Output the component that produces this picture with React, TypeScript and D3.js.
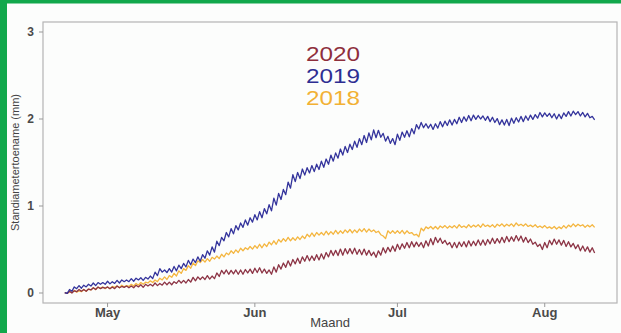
import React from "react";
import * as d3 from "d3";

// ---- data (daily values in mm, day 0 = 22 April) ----
const startDay = Date.UTC(2020, 3, 22);
const domainStart = Date.UTC(2020, 3, 17, 10);
const domainEnd = Date.UTC(2020, 7, 16, 5);

const monthTicks = [Date.UTC(2020, 4, 1), Date.UTC(2020, 5, 1), Date.UTC(2020, 6, 1), Date.UTC(2020, 7, 1)];
const monthLabels = ["May", "Jun", "Jul", "Aug"];
const yTicks = [0, 1, 2, 3];

const years = ["2020", "2019", "2018"];
const yearColors = ["#8e2f3c", "#2e2e92", "#f2b134"];

const v2019 = [
  0.00, 0.03, 0.06, 0.07, 0.08, 0.09, 0.10, 0.11, 0.11, 0.12,
  0.12, 0.13, 0.14, 0.14, 0.15, 0.16, 0.16, 0.17, 0.18, 0.22,
  0.26, 0.25, 0.26, 0.28, 0.30, 0.32, 0.35, 0.37, 0.39, 0.42,
  0.46, 0.50, 0.57, 0.62, 0.67, 0.71, 0.75, 0.78, 0.81, 0.84,
  0.87, 0.90, 0.94, 0.98, 1.05, 1.11, 1.16, 1.24, 1.32, 1.35,
  1.39, 1.41, 1.43, 1.45, 1.48, 1.51, 1.55, 1.58, 1.62, 1.65,
  1.68, 1.71, 1.74, 1.77, 1.80, 1.83, 1.83, 1.79, 1.76, 1.74,
  1.79, 1.82, 1.83, 1.86, 1.91, 1.93, 1.92, 1.91, 1.92, 1.94,
  1.95, 1.96, 1.97, 1.99, 2.00, 2.01, 2.02, 2.02, 2.01, 2.00,
  1.99, 1.97, 1.96, 1.96, 1.98, 1.99, 2.00, 2.01, 2.02, 2.03,
  2.05, 2.05, 2.04, 2.03, 2.03, 2.05, 2.06, 2.07, 2.06, 2.05,
  2.04, 2.01,
];
const r2019 = [
  0.01, 0.02, 0.02, 0.03, 0.02, 0.02, 0.03, 0.02, 0.02, 0.03,
  0.02, 0.03, 0.02, 0.02, 0.03, 0.02, 0.03, 0.02, 0.03, 0.04,
  0.04, 0.03, 0.04, 0.05, 0.04, 0.04, 0.05, 0.04, 0.05, 0.04,
  0.05, 0.06, 0.05, 0.04, 0.05, 0.06, 0.05, 0.05, 0.06, 0.05,
  0.06, 0.07, 0.06, 0.07, 0.08, 0.07, 0.06, 0.07, 0.08, 0.07,
  0.07, 0.06, 0.07, 0.06, 0.07, 0.06, 0.07, 0.06, 0.07, 0.07,
  0.06, 0.07, 0.07, 0.08, 0.08, 0.09, 0.08, 0.09, 0.08, 0.07,
  0.07, 0.06, 0.07, 0.06, 0.05, 0.06, 0.05, 0.06, 0.05, 0.06,
  0.05, 0.06, 0.05, 0.06, 0.05, 0.06, 0.05, 0.04, 0.05, 0.06,
  0.06, 0.07, 0.06, 0.07, 0.06, 0.05, 0.06, 0.05, 0.05, 0.04,
  0.05, 0.04, 0.05, 0.06, 0.05, 0.04, 0.05, 0.04, 0.05, 0.05,
  0.05, 0.04,
];

const v2018 = [
  0.00, 0.01, 0.02, 0.02, 0.03, 0.04, 0.05, 0.06, 0.06, 0.06,
  0.07, 0.07, 0.08, 0.08, 0.09, 0.10, 0.11, 0.12, 0.13, 0.14,
  0.16, 0.17, 0.19, 0.21, 0.24, 0.27, 0.30, 0.33, 0.36, 0.37,
  0.38, 0.40, 0.41, 0.43, 0.45, 0.47, 0.48, 0.50, 0.51, 0.52,
  0.53, 0.54, 0.55, 0.57, 0.58, 0.60, 0.61, 0.62, 0.62, 0.63,
  0.64, 0.66, 0.67, 0.68, 0.68, 0.69, 0.69, 0.70, 0.70, 0.71,
  0.71, 0.71, 0.72, 0.72, 0.72, 0.71, 0.69, 0.64, 0.70, 0.70,
  0.70, 0.70, 0.70, 0.68, 0.66, 0.73, 0.75, 0.75, 0.75, 0.76,
  0.76, 0.76, 0.76, 0.77, 0.76, 0.77, 0.77, 0.77, 0.78, 0.77,
  0.77, 0.78, 0.78, 0.78, 0.78, 0.79, 0.78, 0.78, 0.77, 0.77,
  0.76, 0.76, 0.75, 0.75, 0.75, 0.76, 0.77, 0.78, 0.78, 0.77,
  0.77, 0.77,
];
const r2018 = [
  0.01, 0.01, 0.02, 0.01, 0.02, 0.01, 0.02, 0.01, 0.02, 0.02,
  0.01, 0.02, 0.02, 0.01, 0.02, 0.02, 0.02, 0.01, 0.02, 0.02,
  0.02, 0.03, 0.02, 0.03, 0.03, 0.02, 0.03, 0.03, 0.02, 0.03,
  0.03, 0.02, 0.03, 0.03, 0.02, 0.03, 0.03, 0.03, 0.02, 0.03,
  0.03, 0.04, 0.03, 0.03, 0.04, 0.03, 0.03, 0.04, 0.03, 0.03,
  0.03, 0.03, 0.04, 0.03, 0.03, 0.04, 0.03, 0.04, 0.03, 0.03,
  0.04, 0.03, 0.03, 0.04, 0.03, 0.03, 0.04, 0.03, 0.03, 0.03,
  0.03, 0.04, 0.03, 0.03, 0.03, 0.03, 0.02, 0.03, 0.03, 0.02,
  0.03, 0.02, 0.03, 0.03, 0.02, 0.03, 0.02, 0.03, 0.03, 0.02,
  0.03, 0.02, 0.03, 0.02, 0.03, 0.03, 0.02, 0.03, 0.02, 0.03,
  0.02, 0.03, 0.02, 0.03, 0.02, 0.03, 0.02, 0.03, 0.02, 0.03,
  0.02, 0.03,
];

const v2020 = [
  0.00, 0.01, 0.02, 0.03, 0.03, 0.04, 0.05, 0.06, 0.06, 0.06,
  0.06, 0.07, 0.07, 0.07, 0.07, 0.08, 0.08, 0.09, 0.09, 0.10,
  0.10, 0.11, 0.11, 0.12, 0.13, 0.13, 0.14, 0.16, 0.17, 0.17,
  0.18, 0.18, 0.21, 0.24, 0.24, 0.24, 0.24, 0.24, 0.25, 0.25,
  0.26, 0.26, 0.25, 0.24, 0.27, 0.30, 0.32, 0.34, 0.36, 0.37,
  0.39, 0.40, 0.40, 0.41, 0.42, 0.44, 0.46, 0.46, 0.47, 0.48,
  0.48, 0.48, 0.47, 0.47, 0.46, 0.44, 0.46, 0.49, 0.50, 0.51,
  0.53, 0.54, 0.55, 0.56, 0.56, 0.55, 0.57, 0.59, 0.61, 0.60,
  0.58, 0.55, 0.55, 0.56, 0.56, 0.57, 0.57, 0.58, 0.58, 0.59,
  0.60, 0.60, 0.61, 0.62, 0.62, 0.63, 0.62, 0.61, 0.59, 0.56,
  0.53, 0.55, 0.58, 0.59, 0.58, 0.57, 0.56, 0.54, 0.52, 0.51,
  0.50, 0.49,
];
const r2020 = [
  0.01, 0.02, 0.01, 0.02, 0.02, 0.01, 0.02, 0.02, 0.01, 0.02,
  0.02, 0.02, 0.01, 0.02, 0.02, 0.02, 0.03, 0.02, 0.02, 0.03,
  0.02, 0.03, 0.03, 0.02, 0.03, 0.03, 0.03, 0.04, 0.03, 0.03,
  0.04, 0.03, 0.04, 0.04, 0.05, 0.04, 0.05, 0.05, 0.04, 0.05,
  0.05, 0.06, 0.05, 0.05, 0.06, 0.05, 0.05, 0.06, 0.05, 0.06,
  0.05, 0.06, 0.05, 0.06, 0.06, 0.05, 0.06, 0.06, 0.07, 0.06,
  0.06, 0.07, 0.06, 0.07, 0.06, 0.06, 0.05, 0.06, 0.05, 0.06,
  0.06, 0.05, 0.06, 0.06, 0.05, 0.06, 0.06, 0.07, 0.06, 0.06,
  0.05, 0.06, 0.06, 0.05, 0.06, 0.06, 0.05, 0.06, 0.06, 0.05,
  0.06, 0.05, 0.06, 0.06, 0.05, 0.06, 0.07, 0.06, 0.06, 0.05,
  0.06, 0.06, 0.05, 0.06, 0.06, 0.07, 0.06, 0.06, 0.07, 0.06,
  0.06, 0.06,
];

// ---- chart ----
const W = 621;
const H = 333;
const box = { left: 43, right: 617, top: 22, bottom: 303 };
const DAY = 86400000;

type Pt = { t: number; v: number };

// each day: daily high in the morning, daily low half a day later
function toPoints(vals: number[], ranges: number[]): Pt[] {
  const pts: Pt[] = [];
  vals.forEach((v, i) => {
    pts.push({ t: startDay + i * DAY, v: v + ranges[i] / 2 });
    pts.push({ t: startDay + i * DAY + DAY / 2, v: v - ranges[i] / 2 });
  });
  return pts;
}

export default function App() {
  const x = d3.scaleUtc().domain([domainStart, domainEnd]).range([box.left, box.right]);
  const y = d3.scaleLinear().domain([0, 3]).range([293, 32]);

  const line = d3
    .line<Pt>()
    .x((d) => x(d.t))
    .y((d) => y(d.v));

  const series = [
    { pts: toPoints(v2018, r2018), color: "#f4b640" },
    { pts: toPoints(v2020, r2020), color: "#8c3445" },
    { pts: toPoints(v2019, r2019), color: "#34349c" },
  ];

  const font = "'Liberation Sans', Arial, sans-serif";

  return (
    <svg
      width={W}
      height={H}
      style={{ position: "absolute", left: 0, top: 0, background: "#fdfefd" }}
      fontFamily={font}
    >
      <rect x={0} y={0} width={W} height={H} fill="#fcfdfc" />
      {/* green frame */}
      <rect x={0} y={0} width={W} height={3.5} fill="#12a84c" />
      <rect x={0} y={0} width={7} height={H} fill="#12a84c" />

      {/* plot box */}
      <rect
        x={box.left}
        y={box.top}
        width={box.right - box.left}
        height={box.bottom - box.top}
        fill="none"
        stroke="#b4b4b4"
        strokeWidth={1.2}
      />

      {/* y axis ticks */}
      {yTicks.map((t) => (
        <g key={t}>
          <line x1={box.left - 4} x2={box.left} y1={y(t)} y2={y(t)} stroke="#999" />
          <text
            x={box.left - 9}
            y={y(t)}
            dy="0.36em"
            textAnchor="end"
            fontSize={12}
            fontWeight="bold"
            fill="#4a4a4a"
          >
            {t}
          </text>
        </g>
      ))}

      {/* x axis ticks */}
      {monthTicks.map((t, i) => (
        <g key={t}>
          <line x1={x(t)} x2={x(t)} y1={box.bottom} y2={box.bottom + 4} stroke="#999" />
          <text
            x={x(t)}
            y={box.bottom + 14}
            textAnchor="middle"
            fontSize={13}
            fontWeight="bold"
            fill="#4a4a4a"
          >
            {monthLabels[i]}
          </text>
        </g>
      ))}

      {/* axis titles */}
      <text
        x={(box.left + box.right) / 2}
        y={327}
        textAnchor="middle"
        fontSize={13}
        fill="#444"
      >
        Maand
      </text>
      <text
        transform={`translate(19,${(box.top + box.bottom) / 2}) rotate(-90)`}
        textAnchor="middle"
        fontSize={11}
        fill="#444"
      >
        Standiametertoename (mm)
      </text>

      {/* series */}
      <g clipPath="url(#plotClip)">
        {series.map((s, i) => (
          <path
            key={i}
            d={line(s.pts) ?? ""}
            fill="none"
            stroke={s.color}
            strokeWidth={1.3}
            strokeLinejoin="round"
          />
        ))}
      </g>
      <defs>
        <clipPath id="plotClip">
          <rect x={box.left} y={box.top} width={box.right - box.left} height={box.bottom - box.top} />
        </clipPath>
      </defs>

      {/* legend */}
      {years.map((yr, i) => (
        <text
          key={yr}
          x={306}
          y={61 + i * 22}
          fontSize={21}
          fill={yearColors[i]}
          textLength={54}
          lengthAdjust="spacingAndGlyphs"
        >
          {yr}
        </text>
      ))}
    </svg>
  );
}
